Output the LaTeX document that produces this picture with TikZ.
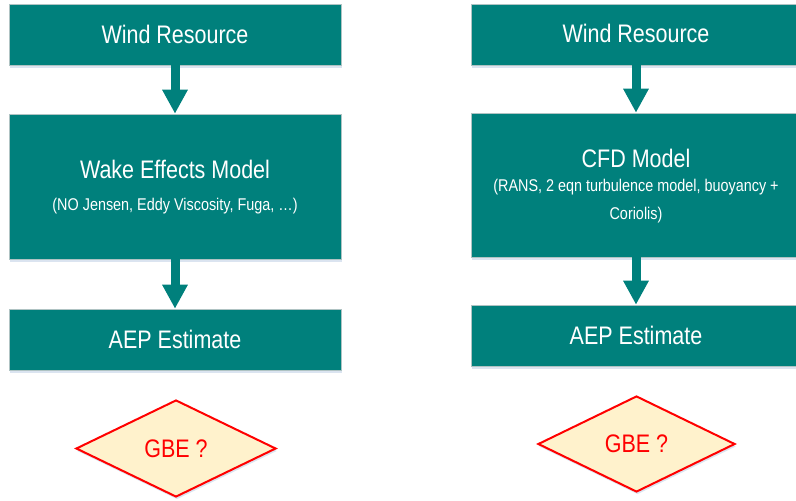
\documentclass[tikz,border=0pt]{standalone}
\usepackage{graphicx}
\usepackage{fontspec}
\setmainfont{Liberation Sans}
\usetikzlibrary{arrows.meta,shapes.geometric,shadows}
\definecolor{tealbox}{RGB}{0,128,124}
\definecolor{gbefill}{RGB}{255,242,204}
\definecolor{gbered}{RGB}{255,0,0}
\definecolor{edgegray}{RGB}{175,195,195}
\definecolor{shadowblue}{RGB}{195,210,230}
\newcommand{\tallt}[1]{\scalebox{1}[1.18]{#1}}
\begin{document}
\begin{tikzpicture}[x=1pt,y=-1pt,
  flowbox/.style={rectangle, fill=tealbox, draw=edgegray, line width=0.6pt, inner sep=0pt,
    minimum width=332pt,
    drop shadow={shadow xshift=1pt, shadow yshift=-2.5pt, fill=shadowblue, opacity=0.6}},
  bigtxt/.style={text=white, font=\fontsize{21.5}{25}\selectfont, inner sep=0pt},
  smalltxt/.style={text=white, font=\fontsize{14.4}{17}\selectfont, inner sep=0pt},
  flowarrow/.style={draw=tealbox, line width=9pt, -{Triangle[width=24pt,length=24pt]}},
  gbe/.style={diamond, fill=gbefill, draw=gbered, line width=2pt, inner sep=0pt,
    text=gbered, font=\fontsize{21.5}{25}\selectfont,
    drop shadow={shadow xshift=1pt, shadow yshift=-2.5pt, fill=shadowblue, opacity=0.6}}
]
\useasboundingbox (0,0) rectangle (796,501);
\clip (0,0) rectangle (796,501);

% left column
\node[flowbox, minimum height=61pt] (L1) at (175,34.5) {};
\node[bigtxt] (L1t) at (175,34) {\tallt{Wind Resource}};
\node[flowbox, minimum height=145pt] (L2) at (175,186.5) {};
\node[bigtxt] (L2t) at (175,169) {\tallt{Wake Effects Model}};
\node[smalltxt] (L2s) at (175,206) {\tallt{(NO Jensen, Eddy Viscosity, Fuga, \ldots)}};
\node[flowbox, minimum height=61pt] (L3) at (175,339.5) {};
\node[bigtxt] (L3t) at (175,339) {\tallt{AEP Estimate}};
\node[gbe, minimum width=200pt, minimum height=97pt] (D1) at (176,448.5) {\tallt{GBE ?}};

\draw[flowarrow] (L1.south) -- (L2.north);
\draw[flowarrow] (L2.south) -- (L3.north);

% right column
\node[flowbox, minimum width=330pt, minimum height=61pt] (R1) at (636,34.5) {};
\node[bigtxt] (R1t) at (636,33) {\tallt{Wind Resource}};
\node[flowbox, minimum width=330pt, minimum height=144pt] (R2) at (636,185) {};
\node[bigtxt] (R2t) at (636,158) {\tallt{CFD Model}};
\node[smalltxt] (R2s) at (636,187) {\tallt{(RANS, 2 eqn turbulence model, buoyancy +}};
\node[smalltxt] (R2u) at (636,215) {\tallt{Coriolis)}};
\node[flowbox, minimum width=330pt, minimum height=61pt] (R3) at (636,335.5) {};
\node[bigtxt] (R3t) at (636,335) {\tallt{AEP Estimate}};
\node[gbe, minimum width=197pt, minimum height=96pt] (D2) at (636.5,444) {\tallt{GBE ?}};

\draw[flowarrow] (R1.south) -- (R2.north);
\draw[flowarrow] (R2.south) -- (R3.north);
\end{tikzpicture}
\end{document}
